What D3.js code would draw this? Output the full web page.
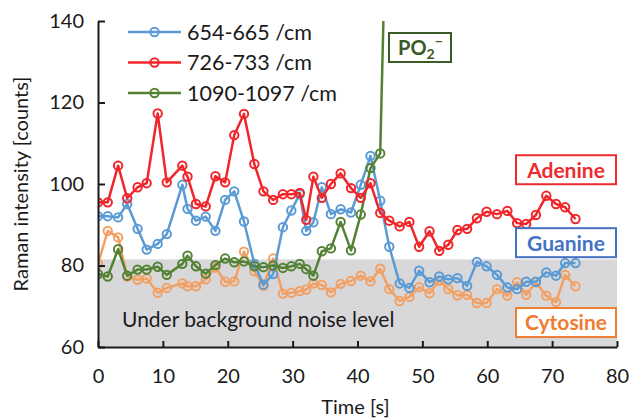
<!DOCTYPE html>
<html>
<head>
<meta charset="utf-8">
<script src="https://cdn.jsdelivr.net/npm/d3@7"></script>
<style>
  body { margin: 0; background: #fff; }
  text { font-family: Lato, "Open Sans", sans-serif; fill: #1a1a1a; }
</style>
</head>
<body>
<div id="chart"></div>
<script>
(function(d3) {
  'use strict';

  // time of each measurement [s]
  var times = [0, 1.5, 3.1, 4.5, 6.1, 7.5, 9.2, 10.6, 13.0, 13.8,
               15.1, 16.6, 18.1, 19.6, 21.0, 22.5, 24.1, 25.5, 27.0, 28.5,
               29.8, 31.1, 32.1, 33.2, 34.5, 35.9, 37.4, 39.0, 40.5, 42.0,
               43.5, 44.9, 46.5, 48.0, 49.5, 51.1, 52.6, 54.0, 55.4, 56.9,
               58.4, 59.9, 61.5, 63.1, 64.6, 66.0, 67.5, 69.1, 70.6, 72.0,
               73.6];

  var band_654 = [92.1, 92.1, 91.8, 95.1, 89.0, 83.9, 85.3, 87.7, 99.8, 93.9,
                  91.0, 92.0, 88.5, 96.1, 98.2, 90.8, 80.4, 75.3, 77.9, 89.4,
                  93.5, 97.5, 88.5, 90.6, 99.2, 92.6, 93.8, 93.0, 99.8, 106.9,
                  95.9, 84.6, 75.6, 74.5, 78.7, 75.9, 77.3, 76.6, 76.9, 75.0,
                  80.9, 79.8, 77.7, 74.6, 74.2, 76.0, 76.0, 78.3, 77.5, 80.6,
                  80.6];

  var band_726 = [95.5, 95.5, 104.5, 96.5, 99.2, 100.2, 117.3, 100.4, 104.5, 101.8,
                  95.1, 94.5, 101.9, 100.4, 112.0, 117.2, 104.9, 98.2, 96.1, 97.5,
                  97.5, 97.8, 91.2, 101.8, 96.6, 100.0, 102.6, 99.0, 96.6, 100.2,
                  92.9, 91.0, 89.6, 90.7, 84.6, 88.4, 83.6, 85.1, 88.7, 89.0,
                  91.6, 93.2, 92.6, 93.4, 90.4, 90.2, 92.4, 97.1, 95.1, 94.3,
                  91.4];

  // PO2- band, shoots off the top of the plot after 44 s
  var band_1090 = [77.9, 77.3, 84.0, 77.5, 79.0, 79.0, 79.7, 77.7, 80.4, 82.4,
                   79.8, 78.0, 80.1, 81.7, 80.8, 81.0, 79.8, 79.6, 80.0, 79.4,
                   79.8, 80.4, 79.1, 77.5, 83.5, 84.2, 90.7, 83.7, 92.5, 103.9,
                   107.5, 200];

  var cytosine = [80.4, 88.5, 86.9, 77.3, 76.5, 76.8, 73.3, 74.5, 75.6, 74.9,
                  74.9, 76.6, 79.5, 76.0, 76.1, 83.4, 78.6, 75.0, 81.7, 73.1,
                  73.3, 73.7, 74.1, 75.6, 75.2, 73.4, 75.5, 76.2, 77.5, 76.1,
                  79.2, 74.2, 71.3, 72.3, 74.7, 73.2, 76.3, 74.2, 72.7, 72.8,
                  70.8, 70.8, 74.2, 72.6, 75.9, 72.8, 75.9, 72.6, 71.0, 77.7,
                  74.9];

  var noise_level = 81.5;
  var x_ticks = [0, 10, 20, 30, 40, 50, 60, 70, 80];
  var y_ticks = [60, 80, 100, 120, 140];

  var series = [
    { name: '654-665 /cm', color: '#5b9bd5', values: band_654 },
    { name: '726-733 /cm', color: '#f0262b', values: band_726 },
    { name: '1090-1097 /cm', color: '#548235', values: band_1090 },
    { name: 'cytosine', color: '#f2a064', values: cytosine }
  ];

  var tags = [
    { text: 'Adenine', color: '#ee2a2f', y: 103.5 },
    { text: 'Guanine', color: '#4472c4', y: 85.6 },
    { text: 'Cytosine', color: '#ed7d31', y: 66.0 }
  ];

  var width = 630, height = 418;
  var margin = { top: 21, right: 13, bottom: 71, left: 98 };
  var w = width - margin.left - margin.right;
  var h = height - margin.top - margin.bottom;

  var x = d3.scaleLinear().domain([0, 80]).range([0, w]);
  var y = d3.scaleLinear().domain([60, 140]).range([h, 0]);

  var svg = d3.select('#chart')
    .append('svg')
    .attr('width', width)
    .attr('height', height);

  var g = svg.append('g')
    .attr('transform', 'translate(' + margin.left + ',' + margin.top + ')');

  svg.append('defs').append('clipPath')
    .attr('id', 'plot-clip')
    .append('rect')
    .attr('x', 0).attr('y', 0)
    .attr('width', w).attr('height', h);

  // background noise band
  g.append('rect')
    .attr('x', 0)
    .attr('y', y(noise_level))
    .attr('width', w)
    .attr('height', y(60) - y(noise_level))
    .attr('fill', '#d8d8da');

  g.append('text')
    .attr('x', 24)
    .attr('y', y(64.8))
    .attr('font-size', '21px')
    .text('Under background noise level');

  var line = d3.line()
    .x(function(d) { return x(d.t); })
    .y(function(d) { return y(d.v); });

  var plot = g.append('g').attr('clip-path', 'url(#plot-clip)');

  // draw cytosine first, then the three bands on top
  [3, 0, 2, 1].forEach(function(k) {
    var s = series[k];
    var pts = s.values.map(function(v, i) { return { t: times[i], v: v }; });
    plot.append('path')
      .attr('d', line(pts))
      .attr('fill', 'none')
      .attr('stroke', s.color)
      .attr('stroke-width', 2.5)
      .attr('stroke-linejoin', 'round');
    plot.selectAll('.m' + k)
      .data(pts)
      .enter().append('circle')
        .attr('class', 'm' + k)
        .attr('cx', function(d) { return x(d.t); })
        .attr('cy', function(d) { return y(d.v); })
        .attr('r', 4.2)
        .attr('fill', 'none')
        .attr('stroke', s.color)
        .attr('stroke-width', 2);
  });

  // axes, ticks pointing inwards
  var xAxis = g.append('g')
    .attr('transform', 'translate(0,' + h + ')')
    .call(d3.axisBottom(x).tickValues(x_ticks).tickSize(-6).tickPadding(22).tickSizeOuter(0));
  var yAxis = g.append('g')
    .call(d3.axisLeft(y).tickValues(y_ticks).tickSize(-7).tickPadding(14).tickSizeOuter(0));

  [xAxis, yAxis].forEach(function(a) {
    a.select('.domain').attr('stroke', '#1a1a1a').attr('stroke-width', 2);
    a.selectAll('.tick line').attr('stroke', '#1a1a1a').attr('stroke-width', 2);
    a.selectAll('.tick text')
      .attr('font-size', '20px')
      .attr('font-family', 'Lato, sans-serif')
      .attr('fill', '#1a1a1a');
  });

  svg.append('text')
    .attr('x', margin.left + w / 2 - 2)
    .attr('y', 414)
    .attr('text-anchor', 'middle')
    .attr('font-size', '20px')
    .text('Time [s]');

  svg.append('text')
    .attr('transform', 'translate(28,' + (margin.top + h / 2) + ') rotate(-90)')
    .attr('text-anchor', 'middle')
    .attr('font-size', '20px')
    .text('Raman intensity [counts]');

  // legend
  var legend = svg.append('g').attr('transform', 'translate(128,32)');
  series.slice(0, 3).forEach(function(s, i) {
    var row = legend.append('g').attr('transform', 'translate(0,' + (i * 30.5) + ')');
    row.append('line')
      .attr('x1', 0).attr('x2', 53)
      .attr('stroke', s.color)
      .attr('stroke-width', 2.5);
    row.append('circle')
      .attr('cx', 26.5).attr('r', 4.2)
      .attr('fill', 'none')
      .attr('stroke', s.color)
      .attr('stroke-width', 2);
    row.append('text')
      .attr('x', 59)
      .attr('dy', '0.35em')
      .attr('font-size', '21.5px')
      .text(s.name);
  });

  // labelled boxes on the right
  tags.forEach(function(t) {
    var box = g.append('g')
      .attr('transform', 'translate(' + (w - 101) + ',' + (y(t.y) - 14.5) + ')');
    box.append('rect')
      .attr('width', 100).attr('height', 29)
      .attr('fill', '#fff')
      .attr('stroke', t.color)
      .attr('stroke-width', 2);
    box.append('text')
      .attr('x', 50).attr('y', 15)
      .attr('dy', '0.35em')
      .attr('text-anchor', 'middle')
      .attr('font-size', '21px')
      .attr('font-weight', 'bold')
      .style('fill', t.color)
      .text(t.text);
  });

  // PO2- tag next to the spike
  var po = svg.append('g').attr('transform', 'translate(389,33)');
  po.append('rect')
    .attr('width', 62).attr('height', 29)
    .attr('fill', '#fff')
    .attr('stroke', '#3a5a26')
    .attr('stroke-width', 2);
  var po_text = po.append('text')
    .attr('x', 9).attr('y', 22)
    .attr('font-size', '20px')
    .attr('font-weight', 'bold')
    .style('fill', '#3a5a26');
  po_text.append('tspan').text('PO');
  po_text.append('tspan').attr('dy', 4).attr('font-size', '14px').text('2');
  po_text.append('tspan').attr('dy', -13).attr('font-size', '14px').text('\u2212');
})(window.d3);
</script>
</body>
</html>
